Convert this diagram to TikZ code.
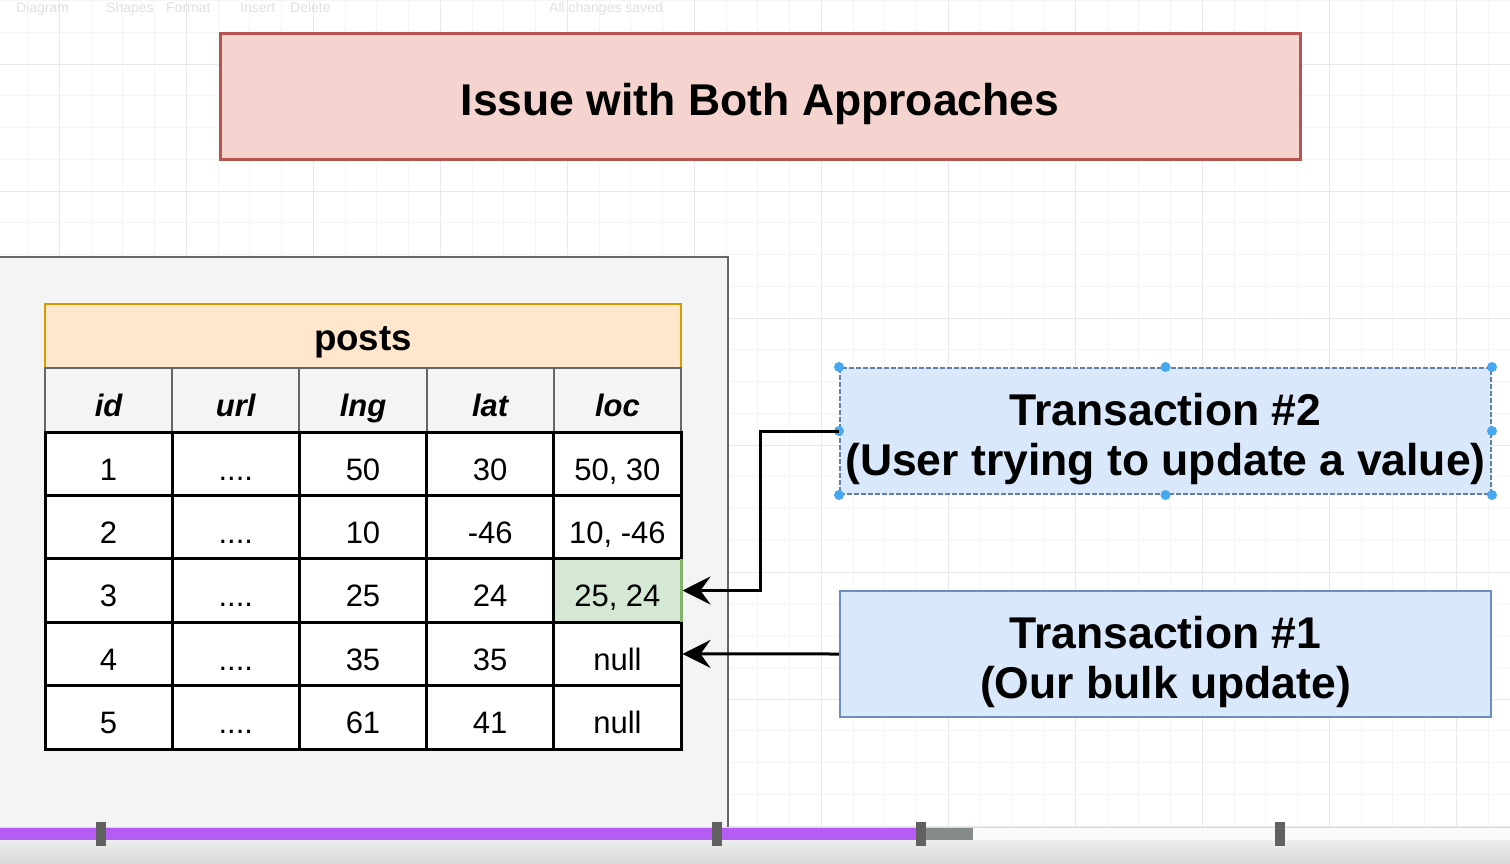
\documentclass[tikz,border=0pt]{standalone}
\usepackage{fontspec}
\setmainfont{Liberation Sans}
\usetikzlibrary{arrows.meta,calc,positioning}
\definecolor{titleRed}{HTML}{B85450}
\definecolor{titleFill}{HTML}{F5D3CE}
\definecolor{postsOrange}{HTML}{D79B00}
\definecolor{postsFill}{HTML}{FFE6CC}
\definecolor{locGreen}{HTML}{82B366}
\definecolor{locFill}{HTML}{D5E8D4}
\definecolor{txBlue}{HTML}{6C8EBF}
\definecolor{txFill}{HTML}{DAE8FC}
\definecolor{handleBlue}{HTML}{45A8F0}
\definecolor{panelGrey}{HTML}{F4F4F4}
\definecolor{progressPurple}{HTML}{B45CF3}
\definecolor{bufferGrey}{HTML}{858A8A}

\begin{document}
\begin{tikzpicture}[
  x=1pt, y=-1pt,
  minorgrid/.style={draw=black!4, line width=0.8pt},
  majorgrid/.style={draw=black!9, line width=0.9pt},
  toolbar/.style={font=\fontsize{14}{16}\selectfont, text=black!12, anchor=base west, inner sep=0pt},
  titlebox/.style={draw=titleRed, fill=titleFill, line width=3pt, minimum width=1080pt, minimum height=126pt, font=\fontsize{44.5}{50}\selectfont\bfseries, text height=37.8pt, text depth=0pt},
  panel/.style={draw=black!60, fill=panelGrey, line width=2.5pt},
  tablename/.style={draw=postsOrange, fill=postsFill, line width=2pt, minimum width=636pt, minimum height=64pt, font=\fontsize{36.7}{40}\selectfont\bfseries, text height=28pt, text depth=0pt},
  headcell/.style={draw=black!60, fill=panelGrey, line width=2pt, minimum width=127.2pt, minimum height=63.6pt, font=\fontsize{31}{34}\selectfont\bfseries\itshape, text height=32pt, text depth=0pt},
  cell/.style={draw=black, line width=3pt, minimum width=127.2pt, minimum height=63.4pt, font=\fontsize{31}{34}\selectfont, text height=32.6pt, text depth=0pt},
  txbox/.style={draw=txBlue, fill=txFill, line width=2.5pt, minimum width=651pt, minimum height=126pt, align=center, font=\fontsize{44.5}{50}\selectfont\bfseries},
  handle/.style={circle, fill=handleBlue, minimum size=10pt, inner sep=0pt},
  flow/.style={-{Stealth[length=28pt, width=28pt, inset=10pt]}, line width=3pt, draw=black},
  marker/.style={fill=black!62, draw=none}
]
\clip (0,0) rectangle (1510,864);
\fill[white] (0,0) rectangle (1510,864);

\foreach \k in {-1,...,47} \draw[minorgrid] ({27.6+31.75*\k},0) -- ++(0,864);
\foreach \k in {0,...,27} \draw[minorgrid] (0,{0.5+31.75*\k}) -- ++(1510,0);
\foreach \k in {0,...,11} \draw[majorgrid] ({59.35+127*\k},0) -- ++(0,864);
\foreach \k in {0,...,6} \draw[majorgrid] (0,{64+127*\k}) -- ++(1510,0);

\foreach \id/\x/\word in {diagram/16/Diagram, shapes/106/Shapes, format/166/Format, insert/240/Insert, delete/290/Delete, saved/549/All changes saved}
  \node[toolbar] (tb\id) at (\x,12.5) {\word};

\node[titlebox] (title) at (760,97) {Issue with Both Approaches};

\draw[panel] (-10,257) rectangle (728,832);
\node[tablename] (posts) at (363,336) {posts};

\foreach \c/\x/\name in {1/108.6/id, 2/235.8/url, 3/363/lng, 4/490.2/lat, 5/617.4/loc}
  \node[headcell] (head\c) at (\x,400) {\name};

\foreach \r/\y/\lng/\lat/\loc/\locfill in {1/463.7/50/30/{50, 30}/white,
  2/527.1/10/-46/{10, -46}/white,
  3/590.5/25/24/{25, 24}/locFill,
  4/653.9/35/35/null/white,
  5/717.3/61/41/null/white} {
  \node[cell, fill=white] (id\r) at (108.6,\y) {\r};
  \node[cell, fill=white] (url\r) at (235.8,\y) {....};
  \node[cell, fill=white] (lng\r) at (363,\y) {\lng};
  \node[cell, fill=white] (lat\r) at (490.2,\y) {\lat};
  \node[cell, fill=\locfill] (loc\r) at (617.4,\y) {\loc};
}
\draw[locGreen, line width=3pt] ([xshift=-1.5pt, yshift=-1.5pt]loc3.north east) -- ([xshift=-1.5pt, yshift=1.5pt]loc3.south east);

\node[txbox, draw=txBlue!90!black, line width=2pt, dash pattern=on 5pt off 2pt] (tx2) at (1165.5,431) {\rule{0pt}{48pt}Transaction \#2\\(User trying to update a value)};
\node[txbox] (tx1) at (1165.5,654) {\rule{0pt}{48pt}Transaction \#1\\(Our bulk update)};

\foreach \a [count=\i] in {north west, north, north east, east, south east, south, south west, west}
  \node[handle] (grip\i) at (tx2.\a) {};

\draw[flow] (tx2.west) -- ++(-79,0) |- (loc3.east);
\draw[flow] (tx1.west) -- (loc4.east);

\shade[top color=black!7, bottom color=black!15] (0,840) rectangle (1510,864);
\fill[black!2] (0,827) rectangle (1510,840);
\draw[black!14, line width=1pt] (0,827) -- (1510,827);
\fill[progressPurple] (0,828) rectangle (915,840);
\fill[bufferGrey] (915,828) rectangle (973,840);
\foreach \mx in {101,717,921,1280}
  \fill[marker] ({\mx-5},822) rectangle ({\mx+5},846);
\end{tikzpicture}
\end{document}
